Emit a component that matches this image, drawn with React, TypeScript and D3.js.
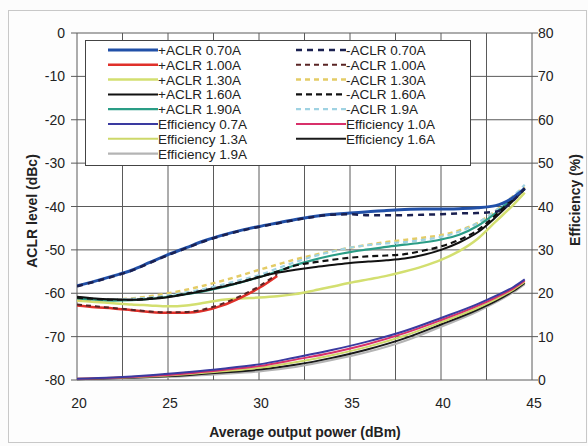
import * as d3 from 'd3'

const W = 588
const H = 446
const PLOT = { left: 77, right: 532, top: 33, bottom: 380 }

const X_TICKS = [20, 25, 30, 35, 40, 45]
const X_GRID = [20, 22.5, 25, 27.5, 30, 32.5, 35, 37.5, 40, 42.5, 45]
const Y_TICKS = [0, -10, -20, -30, -40, -50, -60, -70, -80]
const EFF_TICKS = [0, 10, 20, 30, 40, 50, 60, 70, 80]

// ACLR sweeps (dBm -> dBc)
const P_FULL = [20, 21, 22, 23, 24, 25, 26, 27, 28, 29, 30, 31, 32, 33, 34, 35, 36, 37, 38, 39, 40, 41, 42, 43, 44, 44.6]
const P_LOW = [20, 21, 22, 23, 24, 25, 26, 27, 28, 29, 30, 31]

const aclrP070 = [-58.3, -57.2, -56, -54.7, -52.9, -51.1, -49.5, -47.9, -46.6, -45.5, -44.6, -43.8, -43, -42.3, -41.8, -41.5, -41.2, -40.9, -40.7, -40.6, -40.6, -40.5, -40.3, -39.8, -37.8, -35.8]
const aclrM070 = [-58.4, -57.3, -56.1, -54.8, -53, -51.2, -49.6, -48, -46.7, -45.6, -44.7, -43.9, -43.1, -42.4, -41.9, -41.8, -42, -42, -42, -41.9, -41.8, -41.6, -41.5, -41.2, -38.5, -35.8]
const aclrP100 = [-62.8, -63.2, -63.5, -63.9, -64.3, -64.5, -64.5, -64, -62.8, -61, -58.8, -56]
const aclrM100 = [-62.6, -63, -63.4, -63.8, -64.2, -64.4, -64.3, -63.7, -62.4, -60.6, -58.4, -55.6]
const aclrP130 = [-61.7, -62, -62.3, -62.6, -62.8, -63, -62.8, -62.2, -61.5, -61.2, -61, -60.7, -60.2, -59.4, -58.5, -57.6, -56.8, -56, -55, -53.8, -52.3, -50.3, -47.5, -43.5, -39.5, -36.8]
const aclrM130 = [-61.5, -61.6, -61.5, -61.2, -60.7, -60, -59.2, -58.2, -57.1, -55.9, -54.6, -53.4, -52.2, -51.2, -50.3, -49.5, -48.8, -48.2, -47.7, -47.2, -46.6, -45.5, -43.8, -41, -37.5, -35.5]
const aclrP160 = [-60.8, -61.2, -61.4, -61.5, -61.3, -60.9, -60.2, -59.4, -58.5, -57.5, -56.3, -55.3, -54.6, -54, -53.5, -53, -52.7, -52.4, -52, -51.2, -50, -48.3, -46, -42.5, -38.5, -36]
const aclrM160 = [-61, -61.3, -61.5, -61.5, -61.2, -60.8, -60.1, -59.3, -58.4, -57.4, -56.2, -55, -53.6, -52.9, -52.3, -51.8, -51.5, -51.3, -51, -50.2, -49.2, -47.7, -45.5, -42, -38, -36]
const aclrP190 = [-61.2, -61.5, -61.7, -61.6, -61.3, -60.8, -60.2, -59.5, -58.6, -57.5, -56.3, -55, -53.5, -52.3, -51.3, -50.5, -49.9, -49.3, -48.8, -48.3, -47.6, -46.5, -44.5, -41.5, -38, -36]
const aclrM190 = [-61, -61.3, -61.4, -61.3, -61, -60.5, -59.8, -59, -58, -56.9, -55.8, -54.3, -52.8, -51.5, -50.4, -49.5, -48.9, -48.5, -48.2, -47.7, -47, -45.8, -43.8, -41, -37.5, -35]

// Efficiency (%)
const P_EFF = [20, 22, 24, 26, 28, 30, 32, 34, 36, 38, 40, 42, 43, 44, 44.6]
const eff07 = [0.3, 0.6, 1.1, 1.8, 2.6, 3.6, 5.2, 6.9, 8.9, 11.3, 14.3, 17.5, 19.4, 21.5, 23.2]
const eff10 = [0.3, 0.5, 0.9, 1.5, 2.3, 3.2, 4.7, 6.3, 8.3, 10.8, 13.8, 17.1, 19.0, 21.2, 22.9]
const eff13 = [0.3, 0.5, 0.8, 1.3, 2.0, 2.8, 4.1, 5.7, 7.7, 10.2, 13.3, 16.6, 18.6, 20.9, 22.6]
const eff16 = [0.2, 0.4, 0.7, 1.1, 1.7, 2.4, 3.5, 5.1, 7.1, 9.6, 12.8, 16.2, 18.2, 20.6, 22.4]
const eff19 = [0.2, 0.3, 0.6, 0.9, 1.4, 2.0, 3.0, 4.6, 6.5, 9.0, 12.3, 15.8, 17.9, 20.3, 22.1]

interface Series {
  name: string
  xs: number[]
  ys: number[]
  color: string
  width: number
  dash?: string
  eff?: boolean
}

const SERIES: Series[] = [
  { name: 'Efficiency 1.9A', xs: P_EFF, ys: eff19, color: '#b4b4b4', width: 2.2, eff: true },
  { name: 'Efficiency 1.6A', xs: P_EFF, ys: eff16, color: '#1a1a1a', width: 2, eff: true },
  { name: 'Efficiency 1.3A', xs: P_EFF, ys: eff13, color: '#cdd86a', width: 2, eff: true },
  { name: 'Efficiency 1.0A', xs: P_EFF, ys: eff10, color: '#d8306a', width: 2, eff: true },
  { name: 'Efficiency 0.7A', xs: P_EFF, ys: eff07, color: '#3a3aa0', width: 2, eff: true },
  { name: '+ACLR 1.30A', xs: P_FULL, ys: aclrP130, color: '#d3df70', width: 2.5 },
  { name: '-ACLR 1.30A', xs: P_FULL, ys: aclrM130, color: '#e4cc66', width: 2.5, dash: '5,4' },
  { name: '-ACLR 1.9A', xs: P_FULL, ys: aclrM190, color: '#9fd2e2', width: 2.2, dash: '5,4' },
  { name: '+ACLR 1.90A', xs: P_FULL, ys: aclrP190, color: '#2a9d86', width: 2.2 },
  { name: '+ACLR 1.60A', xs: P_FULL, ys: aclrP160, color: '#111111', width: 2 },
  { name: '-ACLR 1.60A', xs: P_FULL, ys: aclrM160, color: '#111111', width: 2.2, dash: '6,4' },
  { name: '+ACLR 1.00A', xs: P_LOW, ys: aclrP100, color: '#e0302a', width: 2.5 },
  { name: '-ACLR 1.00A', xs: P_LOW, ys: aclrM100, color: '#5a2424', width: 2, dash: '5,4' },
  { name: '+ACLR 0.70A', xs: P_FULL, ys: aclrP070, color: '#2150a8', width: 3 },
  { name: '-ACLR 0.70A', xs: P_FULL, ys: aclrM070, color: '#1a2050', width: 2.5, dash: '6,5' },
]

const LEGEND_COL1 = ['+ACLR 0.70A', '+ACLR 1.00A', '+ACLR 1.30A', '+ACLR 1.60A', '+ACLR 1.90A', 'Efficiency 0.7A', 'Efficiency 1.3A', 'Efficiency 1.9A']
const LEGEND_COL2 = ['-ACLR 0.70A', '-ACLR 1.00A', '-ACLR 1.30A', '-ACLR 1.60A', '-ACLR 1.9A', 'Efficiency 1.0A', 'Efficiency 1.6A']

const FONT = 'Liberation Sans, Arial, sans-serif'
const GRID = '#5a5a5a'

export default function App() {
  const x = d3.scaleLinear().domain([20, 45]).range([PLOT.left, PLOT.right])
  const y = d3.scaleLinear().domain([-80, 0]).range([PLOT.bottom, PLOT.top])
  const yEff = d3.scaleLinear().domain([0, 80]).range([PLOT.bottom, PLOT.top])

  const pathFor = (s: Series) => {
    const ys = s.eff ? yEff : y
    const line = d3
      .line<number>()
      .x((_, i) => x(s.xs[i]))
      .y((v) => ys(v))
      .curve(d3.curveMonotoneX)
    return line(s.ys) ?? ''
  }

  const byName = new Map(SERIES.map((s) => [s.name, s]))

  const legendRow = (name: string, i: number, lx: number, tx: number) => {
    const s = byName.get(name)!
    const cy = 50 + i * 14.8
    return (
      <g key={name}>
        <line x1={lx} x2={lx + 50} y1={cy} y2={cy} stroke={s.color} strokeWidth={s.width} strokeDasharray={s.dash} />
        <text x={tx} y={cy + 5} fontSize={13.5} fill="#222">
          {name}
        </text>
      </g>
    )
  }

  return (
    <svg width={W} height={H} style={{ position: 'absolute', left: 0, top: 0 }} fontFamily={FONT}>
      <rect x={0} y={0} width={W} height={H} fill="#fcfcfc" />
      <rect x={8.5} y={10.5} width={578} height={432} fill="#fdfdfd" stroke="#c8c8c8" />
      <rect x={PLOT.left} y={PLOT.top} width={PLOT.right - PLOT.left} height={PLOT.bottom - PLOT.top} fill="#fff" />

      {/* grid */}
      {X_GRID.map((v) => (
        <line key={'gx' + v} x1={x(v)} x2={x(v)} y1={PLOT.top} y2={PLOT.bottom} stroke={GRID} strokeWidth={1} />
      ))}
      {Y_TICKS.map((v) => (
        <line key={'gy' + v} x1={PLOT.left} x2={PLOT.right} y1={y(v)} y2={y(v)} stroke={GRID} strokeWidth={1} />
      ))}

      {/* left axis */}
      {Y_TICKS.map((v) => (
        <g key={'ly' + v}>
          <line x1={PLOT.left - 6} x2={PLOT.left} y1={y(v)} y2={y(v)} stroke={GRID} />
          <text x={PLOT.left - 12} y={y(v) + 5} textAnchor="end" fontSize={14} fill="#222">
            {v}
          </text>
        </g>
      ))}
      {/* right axis */}
      {EFF_TICKS.map((v) => (
        <g key={'ry' + v}>
          <line x1={PLOT.right} x2={PLOT.right + 6} y1={yEff(v)} y2={yEff(v)} stroke={GRID} />
          <text x={PLOT.right + 6} y={yEff(v) + 5} fontSize={14} fill="#222">
            {v}
          </text>
        </g>
      ))}
      {X_TICKS.map((v) => (
        <text key={'tx' + v} x={x(v) + 2} y={408} textAnchor="middle" fontSize={14} fill="#222">
          {v}
        </text>
      ))}

      {/* series */}
      <defs>
        <clipPath id="plotClip">
          <rect x={PLOT.left} y={PLOT.top} width={PLOT.right - PLOT.left} height={PLOT.bottom - PLOT.top + 2} />
        </clipPath>
      </defs>
      <g clipPath="url(#plotClip)">
        {SERIES.map((s) => (
          <path
            key={s.name}
            d={pathFor(s)}
            fill="none"
            stroke={s.color}
            strokeWidth={s.width}
            strokeDasharray={s.dash}
            strokeLinejoin="round"
          />
        ))}
      </g>

      {/* legend */}
      <rect x={85.5} y={40.5} width={385} height={125} fill="#fff" stroke="#444" />
      {LEGEND_COL1.map((n, i) => legendRow(n, i, 108, 158))}
      {LEGEND_COL2.map((n, i) => legendRow(n, i, 296, 346))}

      {/* titles */}
      <text x={305} y={437} textAnchor="middle" fontSize={14} fontWeight="bold" fill="#222">
        Average output power (dBm)
      </text>
      <text transform="translate(37,211) rotate(-90)" textAnchor="middle" fontSize={14} fontWeight="bold" fill="#222">
        ACLR level (dBc)
      </text>
      <text transform="translate(580,200) rotate(-90)" textAnchor="middle" fontSize={14} fontWeight="bold" fill="#222">
        Efficiency (%)
      </text>
    </svg>
  )
}
